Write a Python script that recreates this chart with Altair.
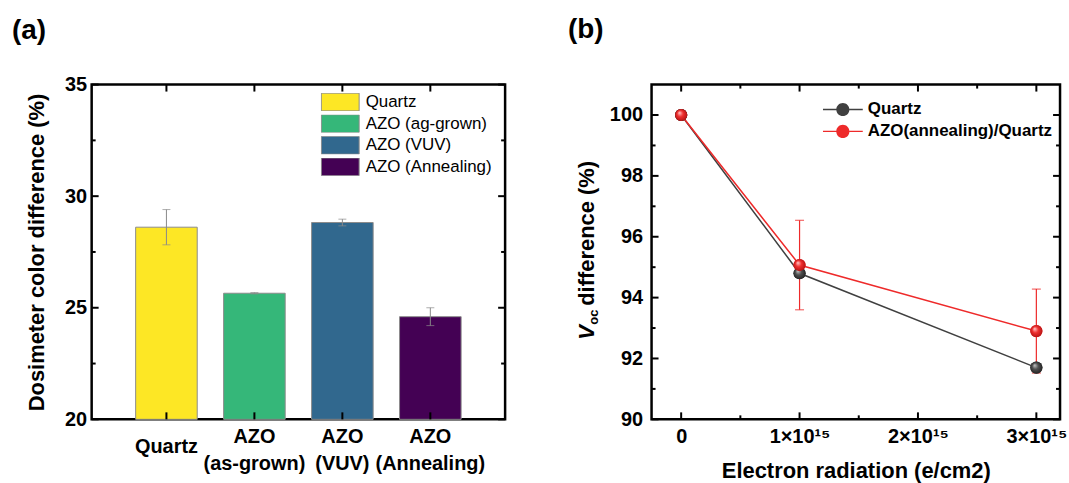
import altair as alt
import pandas as pd

FONT = "Liberation Sans"

# ---------------- Panel (a) data ----------------
categories = ["Quartz", "AZO (as-grown)", "AZO (VUV)", "AZO (Annealing)"]
legend_names = ["Quartz", "AZO (ag-grown)", "AZO (VUV)", "AZO (Annealing)"]
color_diff = [28.61, 25.65, 28.82, 24.60]
color_err = [0.79, 0.03, 0.15, 0.40]
bar_colors = ["#FDE725", "#35B779", "#31688E", "#440154"]
a_y_major = [20, 25, 30, 35]
a_y_minor = [22.5, 27.5, 32.5]

# ---------------- Panel (b) data ----------------
dose = [0, 1e15, 3e15]
voc_quartz = [100.0, 94.8, 91.7]
voc_azo = [100.0, 95.07, 92.9]
voc_azo_err = [0.0, 1.47, 1.38]
series_names = ["Quartz", "AZO(annealing)/Quartz"]
series_colors = ["#404040", "#EE2A2A"]
b_x_major = [0, 1e15, 2e15, 3e15]
b_x_minor = [0.5e15, 1.5e15, 2.5e15]
b_y_major = [90, 92, 94, 96, 98, 100]
b_y_minor = [91, 93, 95, 97, 99]

WA, HA = 415, 336
WB, HB = 410, 336

# ---------------- Panel (a) ----------------
df_a = pd.DataFrame({
    "cat": categories,
    "legend": legend_names,
    "val": color_diff,
    "lo": [v - e for v, e in zip(color_diff, color_err)],
    "hi": [v + e for v, e in zip(color_diff, color_err)],
})

xa_scale = alt.Scale(domain=categories, paddingInner=0.3, paddingOuter=0.5)
ya_scale = alt.Scale(domain=[a_y_major[0], a_y_major[-1]], nice=False, zero=False)

xa_axis = alt.Axis(title=None, labelAngle=0, labelExpr="split(datum.label, ' ')",
                   labelFont=FONT, labelFontSize=20, labelFontWeight="bold",
                   labelColor="black",
                   labelBaseline={"condition": {"test": "datum.label == 'Quartz'", "value": "top"},
                                  "value": "middle"},
                   labelPadding=17,
                   labelLineHeight=27, ticks=False, domain=False, grid=False)
ya_axis = alt.Axis(values=a_y_major, title="Dosimeter color difference (%)",
                   titleFont=FONT, titleFontSize=22, titleFontWeight="bold",
                   titleColor="black", titlePadding=16,
                   labelFont=FONT, labelFontSize=20, labelFontWeight="bold",
                   labelColor="black", labelPadding=5, ticks=False, domain=False,
                   grid=False)


def XA():
    return alt.X("cat:N", sort=categories, scale=xa_scale, axis=xa_axis)


def YA(field):
    return alt.Y(field, scale=ya_scale, axis=ya_axis)


bars = alt.Chart(df_a).mark_bar(stroke="#8c8c8c", strokeWidth=1).encode(
    x=XA(), y=YA("val:Q"), y2=alt.datum(a_y_major[0]),
    color=alt.Color("legend:N", scale=alt.Scale(domain=legend_names, range=bar_colors),
                    legend=alt.Legend(orient="none", legendX=230, legendY=8.5, title=None,
                                      symbolType="M-1,-0.47H1V0.47H-1Z", symbolSize=1444,
                                      symbolStrokeColor="#8c8c8c", symbolStrokeWidth=1,
                                      symbolOpacity=1, clipHeight=18, rowPadding=3.7,
                                      labelFont=FONT, labelFontSize=17, labelFontWeight="normal",
                                      labelColor="black", labelOffset=6, padding=0,
                                      labelLimit=300)),
)

err_rule = alt.Chart(df_a).mark_rule(color="#8a8a8a", strokeWidth=1).encode(
    x=XA(), y=YA("lo:Q"), y2="hi:Q")
err_lo = alt.Chart(df_a).mark_tick(color="#8a8a8a", thickness=1, size=8).encode(
    x=XA(), y=YA("lo:Q"))
err_hi = alt.Chart(df_a).mark_tick(color="#8a8a8a", thickness=1, size=8).encode(
    x=XA(), y=YA("hi:Q"))


def y_ticks(values, yfun, width, length):
    d = pd.DataFrame({"v": values})
    left = alt.Chart(d).mark_rule(color="black", strokeWidth=2).encode(
        y=yfun("v:Q"), x=alt.value(0), x2=alt.value(length))
    right = alt.Chart(d).mark_rule(color="black", strokeWidth=2).encode(
        y=yfun("v:Q"), x=alt.value(width - length), x2=alt.value(width))
    return [left, right]


def x_ticks(d, xenc, height, length):
    bottom = alt.Chart(d).mark_rule(color="black", strokeWidth=2).encode(
        x=xenc, y=alt.value(height - length), y2=alt.value(height))
    top = alt.Chart(d).mark_rule(color="black", strokeWidth=2).encode(
        x=xenc, y=alt.value(0), y2=alt.value(length))
    return [bottom, top]


a_ticks = (y_ticks(a_y_major, YA, WA, 7) + y_ticks(a_y_minor, YA, WA, 4)
           + x_ticks(pd.DataFrame({"cat": categories}), XA(), HA, 7))

label_a = alt.Chart(pd.DataFrame({"t": ["(a)"]})).mark_text(
    font=FONT, fontSize=28, fontWeight="bold", align="left", baseline="alphabetic",
    color="black").encode(text="t:N", x=alt.value(-80), y=alt.value(-46))

chart_a = alt.layer(bars, err_rule, err_lo, err_hi, *a_ticks, label_a).properties(
    width=WA, height=HA)

# ---------------- Panel (b) ----------------
df_b = pd.DataFrame({
    "dose": dose + dose,
    "voc": voc_quartz + voc_azo,
    "series": [series_names[0]] * len(dose) + [series_names[1]] * len(dose),
})
df_q = df_b[df_b["series"] == series_names[0]]
df_z = df_b[df_b["series"] == series_names[1]]
df_err = pd.DataFrame({
    "dose": dose,
    "lo": [v - e for v, e in zip(voc_azo, voc_azo_err)],
    "hi": [v + e for v, e in zip(voc_azo, voc_azo_err)],
    "e": voc_azo_err,
})
df_err = df_err[df_err["e"] > 0]

xb_scale = alt.Scale(domain=[-0.25e15, 3.2e15], nice=False, zero=False)
yb_scale = alt.Scale(domain=[90, 101], nice=False, zero=False)

xb_axis = alt.Axis(values=b_x_major, title="Electron radiation (e/cm2)",
                   labelExpr="datum.value == 0 ? '0' : format(datum.value / 1e15, 'd') + '×10¹⁵'",
                   titleFont=FONT, titleFontSize=22, titleFontWeight="bold",
                   titleColor="black", titlePadding=14,
                   labelFont=FONT, labelFontSize=20, labelFontWeight="bold",
                   labelColor="black", labelPadding=7, labelFlush=False,
                   ticks=False, domain=False, grid=False)
yb_axis = alt.Axis(values=b_y_major, title=None,
                   labelFont=FONT, labelFontSize=20, labelFontWeight="bold",
                   labelColor="black", labelPadding=9, labelFlush=False,
                   ticks=False, domain=False, grid=False)


def XB():
    return alt.X("dose:Q", scale=xb_scale, axis=xb_axis)


def YB(field):
    return alt.Y(field, scale=yb_scale, axis=yb_axis)


err_b_rule = alt.Chart(df_err).mark_rule(color=series_colors[1], strokeWidth=1.2).encode(
    x=XB(), y=YB("lo:Q"), y2="hi:Q")
err_b_lo = alt.Chart(df_err).mark_tick(color=series_colors[1], thickness=1.2, size=9,
                                       orient="horizontal").encode(x=XB(), y=YB("lo:Q"))
err_b_hi = alt.Chart(df_err).mark_tick(color=series_colors[1], thickness=1.2, size=9,
                                       orient="horizontal").encode(x=XB(), y=YB("hi:Q"))

line_q = alt.Chart(df_q).mark_line(color=series_colors[0], strokeWidth=1.5).encode(
    x=XB(), y=YB("voc:Q"))
line_z = alt.Chart(df_z).mark_line(color=series_colors[1], strokeWidth=1.5).encode(
    x=XB(), y=YB("voc:Q"))

legend_path = ("M-1,-0.035H-0.33V0.035H-1Z M0.33,-0.035H1V0.035H0.33Z "
               "M-0.33,0A0.33,0.33 0 1,1 0.33,0A0.33,0.33 0 1,1 -0.33,0Z")
points = alt.Chart(df_b).mark_point(filled=True, size=150, opacity=1).encode(
    x=XB(), y=YB("voc:Q"),
    color=alt.Color("series:N", scale=alt.Scale(domain=series_names, range=series_colors),
                    legend=alt.Legend(orient="none", legendX=172, legendY=17, title=None,
                                      symbolType=legend_path, symbolSize=1600,
                                      symbolStrokeWidth=0, symbolOpacity=1,
                                      clipHeight=16, rowPadding=5,
                                      labelFont=FONT, labelFontSize=17, labelFontWeight="bold",
                                      labelColor="black", labelOffset=5, padding=0,
                                      labelLimit=400)),
)


def sphere(d, light, mid, dark):
    grad = alt.Gradient(gradient="radial",
                        stops=[alt.GradientStop(color=light, offset=0),
                               alt.GradientStop(color=mid, offset=0.45),
                               alt.GradientStop(color=dark, offset=1)],
                        x1=0.35, y1=0.3, r1=0, x2=0.5, y2=0.5, r2=0.55)
    return alt.Chart(d).mark_circle(fill=grad, size=150, opacity=1).encode(
        x=XB(), y=YB("voc:Q"))


sph_q = sphere(df_q, "#c8c8c8", "#505050", "#1e1e1e")
sph_z = sphere(df_z, "#ffd0d0", "#f03030", "#b01010")

b_ticks = (y_ticks(b_y_major, YB, WB, 7) + y_ticks(b_y_minor, YB, WB, 4)
           + x_ticks(pd.DataFrame({"dose": b_x_major}), XB(), HB, 7)
           + x_ticks(pd.DataFrame({"dose": b_x_minor}), XB(), HB, 4))

label_b = alt.Chart(pd.DataFrame({"t": ["(b)"]})).mark_text(
    font=FONT, fontSize=28, fontWeight="bold", align="left", baseline="alphabetic",
    color="black").encode(text="t:N", x=alt.value(-84), y=alt.value(-47))

title_parts = alt.Chart(pd.DataFrame({"t": ["V"]})).mark_text(
    font=FONT, fontSize=22, fontWeight="bold", fontStyle="italic", angle=270, align="left",
    baseline="alphabetic", color="black").encode(text="t:N", x=alt.value(-58), y=alt.value(256))
title_sub = alt.Chart(pd.DataFrame({"t": ["oc"]})).mark_text(
    font=FONT, fontSize=13, fontWeight="bold", angle=270, align="left",
    baseline="alphabetic", color="black").encode(text="t:N", x=alt.value(-54), y=alt.value(241))
title_rest = alt.Chart(pd.DataFrame({"t": ["difference (%)"]})).mark_text(
    font=FONT, fontSize=22, fontWeight="bold", angle=270, align="left",
    baseline="alphabetic", color="black").encode(text="t:N", x=alt.value(-58), y=alt.value(222))

chart_b = alt.layer(err_b_rule, err_b_lo, err_b_hi, line_q, line_z, points, sph_q, sph_z,
                    *b_ticks, label_b, title_parts, title_sub, title_rest).properties(
    width=WB, height=HB)

chart = alt.hconcat(chart_a, chart_b, spacing=58).resolve_scale(
    color="independent", x="independent", y="independent"
).resolve_legend(color="independent").properties(
    padding={"left": 10, "top": 13, "right": 0, "bottom": 0},
    background="white",
).configure_view(stroke="black", strokeWidth=2.5)

chart.save("out.html", embed_options={"renderer": "svg", "actions": False})
